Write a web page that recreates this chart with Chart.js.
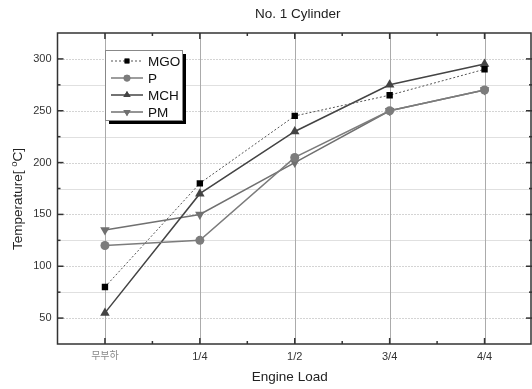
<!DOCTYPE html>
<html>
<head>
<meta charset="utf-8">
<script src="https://cdn.jsdelivr.net/npm/chart.js@4.4.1/dist/chart.umd.min.js"></script>
<style>
html,body{margin:0;padding:0;background:#fff;}
canvas{display:block;}
</style>
</head>
<body>
<canvas id="c" width="532" height="389"></canvas>
<script>
const categories = ['무부하', '1/4', '1/2', '3/4', '4/4'];
const mgo = [80, 180, 245, 265, 290];
const p   = [120, 125, 205, 250, 270];
const mch = [55, 170, 230, 275, 295];
const pm  = [135, 150, 200, 250, 270];
const yTicks = [50, 100, 150, 200, 250, 300];
const yMinorTicks = [75, 125, 175, 225, 275];
const titleText = 'No. 1 Cylinder';
const xTitle = 'Engine Load';
const yTitle = 'Temperature[ ';
const FONT = "'Liberation Sans', Arial, 'Noto Sans CJK KR', sans-serif";

const framePlugin = {
  id: 'frame',
  beforeDatasetsDraw(chart) {
    const {ctx, chartArea: a, scales: {x, y}} = chart;
    ctx.save();
    ctx.strokeStyle = '#e0e0e0'; ctx.lineWidth = 1; ctx.setLineDash([]);
    yMinorTicks.forEach(v => { const py = Math.round(y.getPixelForValue(v)) + 0.5;
      ctx.beginPath(); ctx.moveTo(a.left, py); ctx.lineTo(a.right, py); ctx.stroke(); });
    ctx.strokeStyle = '#a8a8a8'; ctx.setLineDash([1, 2]);
    yTicks.forEach(v => { const py = Math.round(y.getPixelForValue(v)) + 0.5;
      ctx.beginPath(); ctx.moveTo(a.left, py); ctx.lineTo(a.right, py); ctx.stroke(); });
    ctx.setLineDash([]);
    ctx.strokeStyle = '#ababab';
    categories.forEach((c, i) => { const px = Math.round(x.getPixelForValue(i)) + 0.5;
      ctx.beginPath(); ctx.moveTo(px, a.top); ctx.lineTo(px, a.bottom); ctx.stroke(); });
    ctx.restore();
  },
  afterDatasetsDraw(chart) {
    const {ctx, chartArea: a, scales: {x, y}} = chart;
    ctx.save();
    ctx.strokeStyle = '#333'; ctx.lineWidth = 1.5;
    const tick = (x1, y1, x2, y2) => { ctx.beginPath(); ctx.moveTo(x1, y1); ctx.lineTo(x2, y2); ctx.stroke(); };
    yTicks.forEach(v => { const py = y.getPixelForValue(v);
      tick(a.left, py, a.left + 6, py); tick(a.right, py, a.right - 6, py); });
    yMinorTicks.forEach(v => { const py = y.getPixelForValue(v);
      tick(a.left, py, a.left + 3, py); tick(a.right, py, a.right - 3, py); });
    categories.forEach((c, i) => { const px = x.getPixelForValue(i);
      tick(px, a.bottom, px, a.bottom - 6); tick(px, a.top, px, a.top + 6);
      if (i < categories.length - 1) {
        const mx = (x.getPixelForValue(i) + x.getPixelForValue(i + 1)) / 2;
        tick(mx, a.bottom, mx, a.bottom - 3); tick(mx, a.top, mx, a.top + 3);
      }
    });
    ctx.lineWidth = 1.5;
    ctx.strokeRect(a.left, a.top, a.right - a.left - 1, a.bottom - a.top);

    // legend
    const lx = 105, ly = 50, lw = 77, lh = 70;
    ctx.fillStyle = '#000';
    ctx.fillRect(lx + 4, ly + 4, lw, lh);
    ctx.fillStyle = '#fff';
    ctx.fillRect(lx, ly, lw, lh);
    ctx.strokeStyle = '#888'; ctx.lineWidth = 1;
    ctx.strokeRect(lx + 0.5, ly + 0.5, lw, lh);
    chart.data.datasets.forEach((ds, i) => {
      const ry = ly + 11 + i * 17;
      ctx.strokeStyle = ds.borderColor; ctx.lineWidth = ds.borderWidth;
      ctx.setLineDash(ds.borderDash || []);
      ctx.beginPath(); ctx.moveTo(lx + 6, ry); ctx.lineTo(lx + 38, ry); ctx.stroke();
      ctx.setLineDash([]);
      ctx.fillStyle = ds.pointBackgroundColor;
      Chart.helpers.drawPoint(ctx, {pointStyle: ds.pointStyle, radius: ds.pointRadius * 0.75, rotation: ds.pointRotation || 0, borderWidth: 0}, lx + 22, ry);
      ctx.fillStyle = ds.pointBackgroundColor;
      ctx.fill();
      ctx.fillStyle = '#111';
      ctx.font = '13.5px ' + FONT; ctx.textBaseline = 'middle'; ctx.textAlign = 'left';
      ctx.fillText(ds.label, lx + 43, ry + 1);
    });

    // titles
    ctx.fillStyle = '#222'; ctx.textAlign = 'center'; ctx.textBaseline = 'middle';
    ctx.font = '13.5px ' + FONT;
    ctx.fillText(titleText, (a.left + a.right) / 2 + 3, 14);
    ctx.font = '13.5px ' + FONT;
    ctx.fillText(xTitle, (a.left + a.right) / 2 - 5, 377);
    ctx.save();
    ctx.translate(18, 199);
    ctx.rotate(-Math.PI / 2);
    ctx.font = '13.5px ' + FONT;
    const w1 = ctx.measureText(yTitle).width;
    ctx.font = '9.5px ' + FONT;
    const w2 = ctx.measureText('o').width;
    ctx.font = '13.5px ' + FONT;
    const w3 = ctx.measureText('C]').width;
    let sx = -(w1 + w2 + w3) / 2;
    ctx.textAlign = 'left';
    ctx.fillText(yTitle, sx, 0);
    ctx.font = '9.5px ' + FONT;
    ctx.fillText('o', sx + w1, -4);
    ctx.font = '13.5px ' + FONT;
    ctx.fillText('C]', sx + w1 + w2, 0);
    ctx.restore();
    ctx.restore();
  }
};

new Chart(document.getElementById('c'), {
  type: 'line',
  data: {
    labels: categories,
    datasets: [
      {label: 'MGO', data: mgo, borderColor: '#555', borderWidth: 1, borderDash: [2, 2],
       pointStyle: 'rect', pointRadius: 4.5, pointBackgroundColor: '#000', pointBorderColor: '#000', pointBorderWidth: 0},
      {label: 'P', data: p, borderColor: '#7c7c7c', borderWidth: 1.5,
       pointStyle: 'circle', pointRadius: 4.5, pointBackgroundColor: '#7c7c7c', pointBorderColor: '#7c7c7c', pointBorderWidth: 0},
      {label: 'MCH', data: mch, borderColor: '#444', borderWidth: 1.5,
       pointStyle: 'triangle', pointRadius: 5.5, pointBackgroundColor: '#444', pointBorderColor: '#444', pointBorderWidth: 0},
      {label: 'PM', data: pm, borderColor: '#707070', borderWidth: 1.5,
       pointStyle: 'triangle', pointRotation: 180, pointRadius: 5.5, pointBackgroundColor: '#707070', pointBorderColor: '#707070', pointBorderWidth: 0}
    ]
  },
  options: {
    responsive: false,
    animation: false,
    devicePixelRatio: 1,
    layout: {autoPadding: false, padding: {top: 33, right: 0, left: 0, bottom: 0}},
    plugins: {legend: {display: false}, title: {display: false}, tooltip: {enabled: false}},
    elements: {line: {tension: 0}},
    scales: {
      x: {
        type: 'category', offset: true,
        grid: {display: false, drawTicks: false},
        border: {display: false},
        ticks: {padding: 6, maxRotation: 0, autoSkip: false,
          color: (c) => c.index === 0 ? '#8a8a8a' : '#333',
          font: (c) => ({family: FONT, size: c.index === 0 ? 10 : 11})},
        afterFit: (s) => { s.height = 45; s.paddingRight = 0; s.paddingLeft = 0; }
      },
      y: {
        min: 25, max: 325,
        afterBuildTicks: (s) => { s.ticks = yTicks.map(v => ({value: v})); },
        grid: {display: false, drawTicks: false},
        border: {display: false},
        ticks: {padding: 6, color: '#333', font: {family: FONT, size: 11}},
        afterFit: (s) => { s.width = 57.5; s.paddingTop = 0; s.paddingBottom = 0; }
      }
    }
  },
  plugins: [framePlugin]
});
</script>
</body>
</html>
